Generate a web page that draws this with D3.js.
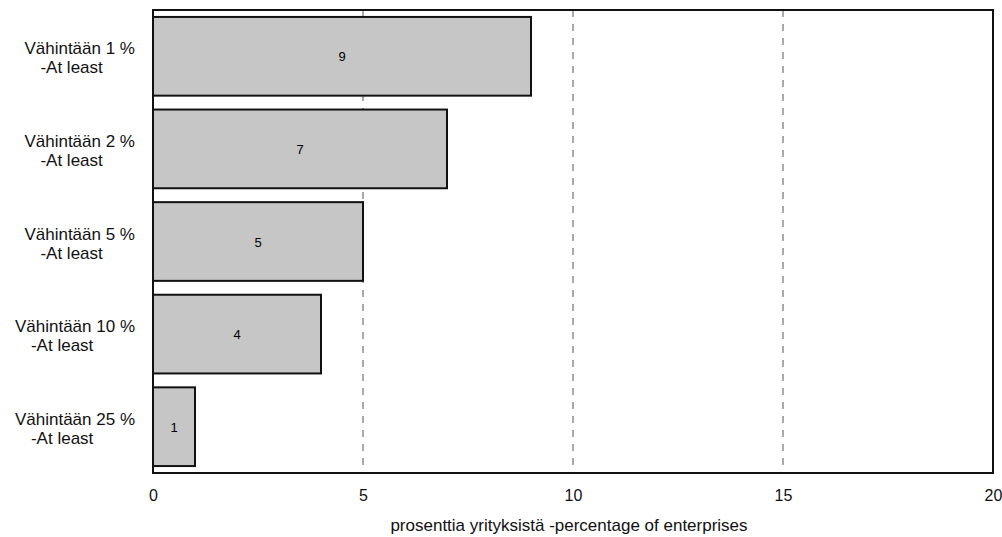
<!DOCTYPE html>
<html><head><meta charset="utf-8">
<script src="https://cdn.jsdelivr.net/npm/d3@7"></script>
<style>body{margin:0;background:#fff;} text{font-family:"Liberation Sans",Arial,sans-serif;}</style>
</head><body><svg id="c" width="1002" height="537"></svg>
<script>
const categories = ["Vähintään 1 %", "Vähintään 2 %", "Vähintään 5 %", "Vähintään 10 %", "Vähintään 25 %"];
const subLabel = "-At least";
const values = [9, 7, 5, 4, 1];
const xTicks = [0, 5, 10, 15, 20];
const xTitle = "prosenttia yrityksistä -percentage of enterprises";

const svg = d3.select("#c");
const L = 153, R = 993, T = 10, B = 473;
const x = d3.scaleLinear().domain([0, 20]).range([L, R]);
const y = d3.scaleBand().domain(categories).range([T, B]).paddingInner(0.15).paddingOuter(0.075);

// gridlines
svg.selectAll("line.grid").data(xTicks.filter(d => d > 0 && d < 20)).enter().append("line")
  .attr("x1", d => x(d)).attr("x2", d => x(d)).attr("y1", T).attr("y2", B)
  .attr("stroke", "#555").attr("stroke-width", 1).attr("stroke-dasharray", "7,7");

// bars
svg.selectAll("rect.bar").data(values).enter().append("rect")
  .attr("x", x(0)).attr("y", (d, i) => y(categories[i]))
  .attr("width", d => x(d) - x(0)).attr("height", y.bandwidth())
  .attr("fill", "#c6c6c6").attr("stroke", "#111").attr("stroke-width", 2);

// value labels
svg.selectAll("text.val").data(values).enter().append("text")
  .attr("x", d => x(d / 2)).attr("y", (d, i) => y(categories[i]) + y.bandwidth() / 2 + 5)
  .attr("text-anchor", "middle").attr("font-size", 13).attr("fill", "#000").text(d => d);

// frame
svg.append("rect").attr("x", L).attr("y", T).attr("width", R - L).attr("height", B - T)
  .attr("fill", "none").attr("stroke", "#111").attr("stroke-width", 2);

// x axis
const xAxis = svg.append("g").attr("transform", `translate(0,${B})`)
  .call(d3.axisBottom(x).tickValues(xTicks).tickSize(0).tickPadding(17));
xAxis.select(".domain").remove();
xAxis.selectAll("text").attr("font-size", 16).attr("fill", "#111").style("font-family", "Liberation Sans, Arial, sans-serif");

// y labels
const yl = svg.selectAll("g.ylab").data(categories).enter().append("g")
  .attr("transform", d => `translate(135,${y(d) + y.bandwidth() / 2})`);
yl.append("text").attr("class", "l1").attr("text-anchor", "end").attr("y", -2).attr("font-size", 17).attr("fill", "#111").text(d => d);
yl.each(function() {
  const g = d3.select(this);
  const w = g.select("text.l1").node().getComputedTextLength();
  g.append("text").attr("text-anchor", "start").attr("x", -w + 16).attr("y", 17)
    .attr("font-size", 17).attr("fill", "#111").text(subLabel);
});

// x title
svg.append("text").attr("x", (L + R) / 2 - 4).attr("y", 531).attr("text-anchor", "middle")
  .attr("font-size", 17).attr("fill", "#111").text(xTitle);
</script></body></html>
